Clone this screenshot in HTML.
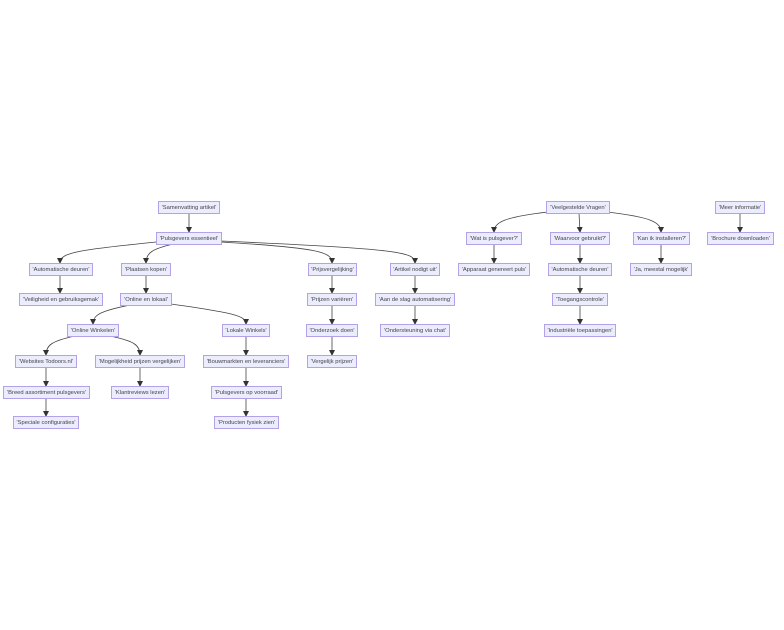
<!DOCTYPE html>
<html><head><meta charset="utf-8"><style>
html,body{margin:0;padding:0;background:#fff;}
body{width:784px;height:630px;position:relative;overflow:hidden;font-family:"Liberation Sans",sans-serif;}
.n{position:absolute;height:11px;line-height:12px;background:#ececff;border:1px solid #b3a3e6;font-size:5.8px;color:#444;text-align:center;white-space:nowrap;box-sizing:content-box;}
svg{position:absolute;left:0;top:0;}
</style></head><body>
<svg width="784" height="630" viewBox="0 0 784 630">
<defs><marker id="a" markerWidth="6" markerHeight="6" refX="5" refY="3" orient="auto" markerUnits="userSpaceOnUse"><path d="M0,0 L6,3 L0,6 z" fill="#333"/></marker></defs>
<g fill="none" stroke="#444" stroke-width="0.8" marker-end="url(#a)">
<path d="M189,213 L189,232"/>
<path d="M156,242 C80,250 60,252 60,263"/>
<path d="M173,244 C152,249 146,253 146,263"/>
<path d="M221,242 C320,248 332,252 332,263"/>
<path d="M221,241 C400,249 415,252 415,263"/>
<path d="M60,275 L60,293"/><path d="M146,275 L146,293"/><path d="M332,275 L332,293"/><path d="M415,275 L415,293"/>
<path d="M130,305 C100,311 93,315 93,324"/>
<path d="M171,304 C235,313 246,316 246,324"/>
<path d="M332,305 L332,324"/><path d="M415,305 L415,324"/>
<path d="M75,336 C52,341 46,345 46,355"/>
<path d="M110,336 C134,341 140,345 140,355"/>
<path d="M246,336 L246,355"/><path d="M332,336 L332,355"/>
<path d="M46,367 L46,386"/><path d="M140,367 L140,386"/><path d="M246,367 L246,386"/>
<path d="M46,398 L46,416"/><path d="M246,398 L246,416"/>
<path d="M548,212 C505,217 494,222 494,232"/>
<path d="M579,213 L580,232"/>
<path d="M607,212 C650,217 661,222 661,232"/>
<path d="M494,244 L494,263"/><path d="M580,244 L580,263"/><path d="M661,244 L661,263"/>
<path d="M580,275 L580,293"/><path d="M580,305 L580,324"/><path d="M740,213 L740,232"/>
</g></svg>
<div class="n" style="left:158px;top:201px;width:60px">'Samenvatting artikel'</div>
<div class="n" style="left:156px;top:232px;width:64px">'Pulsgevers essentieel'</div>
<div class="n" style="left:29px;top:263px;width:62px">'Automatische deuren'</div>
<div class="n" style="left:121px;top:263px;width:48px">'Plaatsen kopen'</div>
<div class="n" style="left:308px;top:263px;width:47px">'Prijsvergelijking'</div>
<div class="n" style="left:390px;top:263px;width:48px">'Artikel nodigt uit'</div>
<div class="n" style="left:19px;top:293px;width:82px">'Veiligheid en gebruiksgemak'</div>
<div class="n" style="left:120px;top:293px;width:50px">'Online en lokaal'</div>
<div class="n" style="left:307px;top:293px;width:48px">'Prijzen variëren'</div>
<div class="n" style="left:375px;top:293px;width:78px">'Aan de slag automatisering'</div>
<div class="n" style="left:67px;top:324px;width:50px">'Online Winkelen'</div>
<div class="n" style="left:222px;top:324px;width:46px">'Lokale Winkels'</div>
<div class="n" style="left:306px;top:324px;width:50px">'Onderzoek doen'</div>
<div class="n" style="left:380px;top:324px;width:68px">'Ondersteuning via chat'</div>
<div class="n" style="left:15px;top:355px;width:60px">'Websites Todoors.nl'</div>
<div class="n" style="left:95px;top:355px;width:88px">'Mogelijkheid prijzen vergelijken'</div>
<div class="n" style="left:203px;top:355px;width:84px">'Bouwmarkten en leveranciers'</div>
<div class="n" style="left:307px;top:355px;width:48px">'Vergelijk prijzen'</div>
<div class="n" style="left:3px;top:386px;width:85px">'Breed assortiment pulsgevers'</div>
<div class="n" style="left:111px;top:386px;width:56px">'Klantreviews lezen'</div>
<div class="n" style="left:211px;top:386px;width:69px">'Pulsgevers op voorraad'</div>
<div class="n" style="left:13px;top:416px;width:64px">'Speciale configuraties'</div>
<div class="n" style="left:214px;top:416px;width:63px">'Producten fysiek zien'</div>
<div class="n" style="left:546px;top:201px;width:62px">'Veelgestelde Vragen'</div>
<div class="n" style="left:466px;top:232px;width:54px">'Wat is pulsgever?'</div>
<div class="n" style="left:550px;top:232px;width:58px">'Waarvoor gebruikt?'</div>
<div class="n" style="left:633px;top:232px;width:55px">'Kan ik installeren?'</div>
<div class="n" style="left:458px;top:263px;width:70px">'Apparaat genereert puls'</div>
<div class="n" style="left:548px;top:263px;width:62px">'Automatische deuren'</div>
<div class="n" style="left:630px;top:263px;width:60px">'Ja, meestal mogelijk'</div>
<div class="n" style="left:552px;top:293px;width:54px">'Toegangscontrole'</div>
<div class="n" style="left:544px;top:324px;width:70px">'Industriële toepassingen'</div>
<div class="n" style="left:715px;top:201px;width:48px">'Meer informatie'</div>
<div class="n" style="left:707px;top:232px;width:65px">'Brochure downloaden'</div>
</body></html>
